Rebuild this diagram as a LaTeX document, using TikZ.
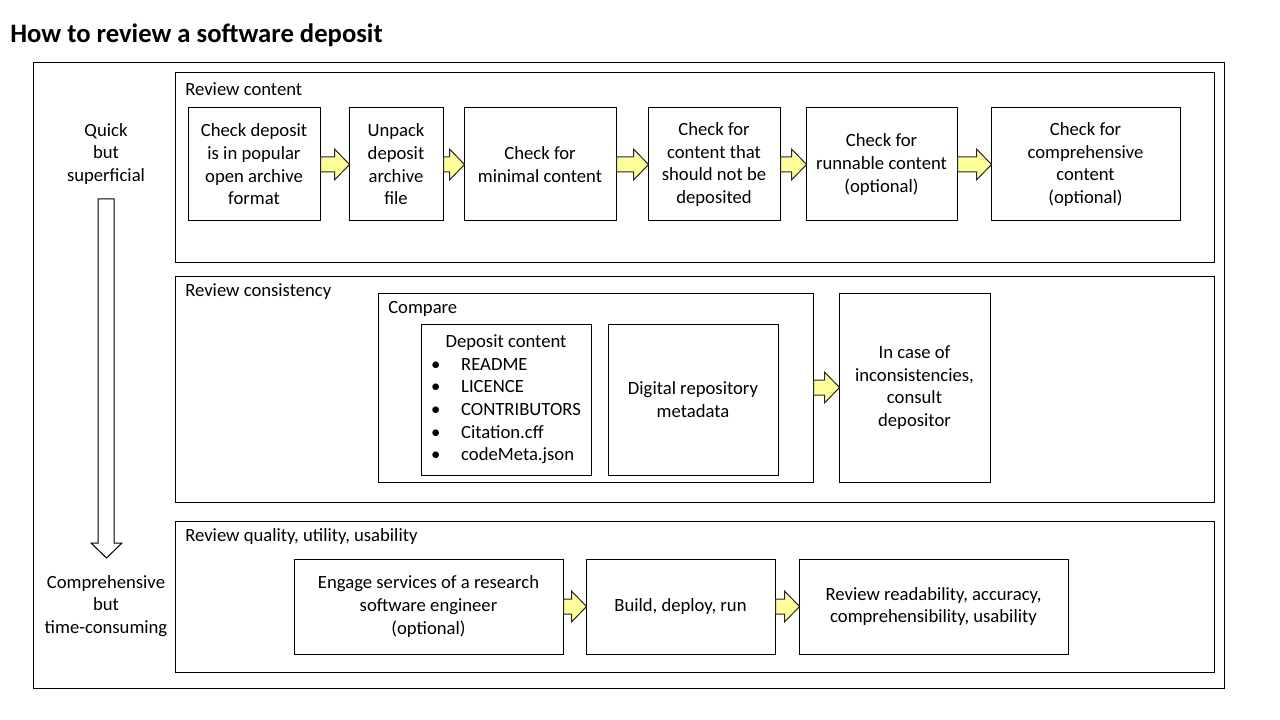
\documentclass[tikz,border=0pt]{standalone}
\usepackage{fontspec}
\setmainfont{Carlito}
\usetikzlibrary{calc}
\newcommand\yarrow[2]{%
  \draw[yarr] ($(#1.east)+(0,-7.5)$) -- ($(#2.west)+(-14,-7.5)$) -- ($(#2.west)+(-14,-15.5)$) -- ($(#2.west)+(1,0)$) -- ($(#2.west)+(-14,15.5)$) -- ($(#2.west)+(-14,7.5)$) -- ($(#1.east)+(0,7.5)$) -- cycle;}
% \bx[style]{name}{x1}{y1}{x2}{y2}{text}
\newcommand\bx[7][box]{%
  \node[#1, minimum width={(#5-#3)*0.75pt}, minimum height={(#6-#4)*0.75pt}] (#2) at ({(#3+#5)/2},{(#4+#6)/2}) {#7};}
\begin{document}
\begin{tikzpicture}[x=0.75pt,y=-0.75pt,
  box/.style={draw, line width=0.75pt, inner sep=0pt, align=center, font=\fontsize{14}{17}\selectfont},
  frame/.style={draw, line width=0.75pt, inner sep=0pt},
  txt/.style={inner sep=0pt, align=center, font=\fontsize{14}{17}\selectfont},
  lbl/.style={anchor=west, inner sep=0pt, font=\fontsize{14}{17}\selectfont},
  yarr/.style={draw=black!85, line width=0.75pt, fill={rgb,255:red,255;green,255;blue,153}, line join=miter},
  bigarr/.style={draw=black, line width=0.75pt, fill=white, line join=miter}]
\useasboundingbox (0,0) rectangle (1280,720);
% title
\node[anchor=west, inner sep=0pt, font=\fontsize{20}{24}\selectfont\bfseries] (title) at (10,35) {How to review a software deposit};
% frames
\bx[frame]{outer}{33}{63}{1224}{688}{}
\bx[frame]{content}{175}{73}{1214}{262}{}
\bx[frame]{consist}{175}{276}{1214}{502}{}
\bx[frame]{quality}{175}{521}{1214}{672}{}
\node[lbl] (lcontent) at (185,89) {Review content};
\node[lbl] (lconsist) at (185,292) {Review consistency};
\node[lbl] (lquality) at (185,537) {Review quality, utility, usability};
% left side
\node[txt] (quick) at (106,154) {Quick\\but\\superficial};
\node[txt] (compr) at (106,606) {Comprehensive\\but\\time-consuming};
\draw[bigarr] (98,199) -- (114,199) -- (114,543) -- (122,543) -- (106.5,558) -- (91,543) -- (98,543) -- cycle;
% row 1
\bx{a}{188}{108}{320}{221}{Check deposit\\is in popular\\open archive\\format}
\bx{b}{349}{108}{443}{221}{Unpack\\deposit\\archive\\file}
\bx{c}{464}{108}{616}{221}{Check for\\minimal content}
\bx{d}{648}{108}{780}{221}{Check for\\content that\\should not be\\deposited}
\bx{e}{806}{108}{957}{221}{Check for\\runnable content\\(optional)}
\bx{f}{991}{108}{1180}{221}{Check for\\comprehensive\\content\\(optional)}
\yarrow{a}{b}
\yarrow{b}{c}
\yarrow{c}{d}
\yarrow{d}{e}
\yarrow{e}{f}
% row 2
\bx{compare}{378}{293}{813}{482}{}
\node[lbl] (lcompare) at (388,309) {Compare};
\bx{dep}{421}{324}{591}{475}{\begin{tabular}{@{}p{22.5pt}@{}l@{}}
\multicolumn{2}{@{}c@{}}{Deposit content}\\
\textbullet & README\\
\textbullet & LICENCE\\
\textbullet & CONTRIBUTORS\\
\textbullet & Citation.cff\\
\textbullet & codeMeta.json
\end{tabular}}
\bx{meta}{608}{324}{778}{475}{Digital repository\\metadata}
\bx{incase}{839}{293}{990}{482}{In case of\\inconsistencies,\\consult\\depositor}
\yarrow{compare}{incase}
% row 3
\bx{engage}{294}{559}{563}{654}{Engage services of a research\\software engineer\\(optional)}
\bx{build}{586}{559}{775}{654}{Build, deploy, run}
\bx{readab}{799}{559}{1068}{654}{Review readability, accuracy,\\comprehensibility, usability}
\yarrow{engage}{build}
\yarrow{build}{readab}
\end{tikzpicture}
\end{document}
